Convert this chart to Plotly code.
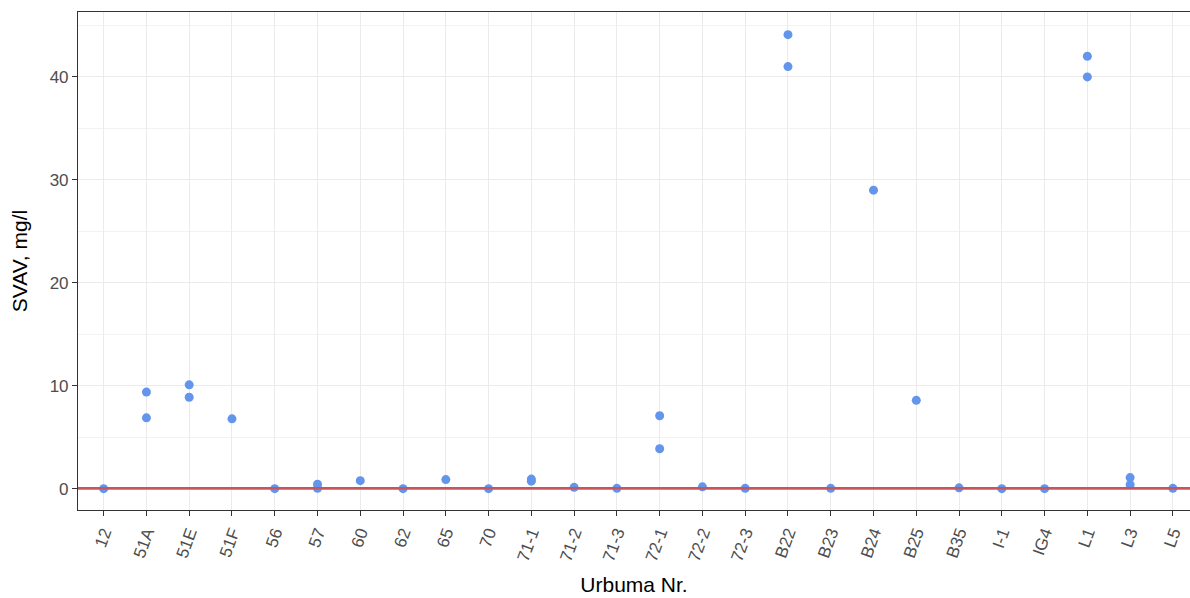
import plotly.graph_objects as go

categories = ["12", "51A", "51E", "51F", "56", "57", "60", "62", "65", "70",
              "71-1", "71-2", "71-3", "72-1", "72-2", "72-3", "B22", "B23",
              "B24", "B25", "B35", "I-1", "IG4", "L1", "L3", "L5"]

site = ["12", "51A", "51A", "51E", "51E", "51F", "56", "57", "57", "60", "62",
        "65", "70", "71-1", "71-1", "71-2", "71-3", "72-1", "72-1", "72-2",
        "72-3", "B22", "B22", "B23", "B24", "B25", "B35", "I-1", "IG4",
        "L1", "L1", "L3", "L3", "L5"]
svav = [0.02, 9.4, 6.9, 10.1, 8.9, 6.8, 0.02, 0.45, 0.05, 0.8, 0.02,
        0.9, 0.02, 0.95, 0.75, 0.15, 0.05, 7.1, 3.9, 0.2,
        0.05, 44.1, 41.0, 0.05, 29.0, 8.6, 0.1, 0.02, 0.02,
        42.0, 40.0, 1.1, 0.4, 0.05]

limit_red = 0.1
limit_grey = 0.0

fig = go.Figure()
fig.add_trace(go.Scatter(
    x=site, y=svav, mode="markers",
    marker=dict(color="#6495ED", size=9, line=dict(width=0)),
    showlegend=False, cliponaxis=False,
))

fig.add_shape(type="line", xref="paper", yref="y", x0=0, x1=1,
              y0=limit_grey, y1=limit_grey,
              line=dict(color="#70808F", width=1.8), layer="above")
fig.add_shape(type="line", xref="paper", yref="y", x0=0, x1=1,
              y0=limit_red, y1=limit_red,
              line=dict(color="#E8464B", width=1.8), layer="above")

font_family = "Liberation Sans, Arial, sans-serif"

fig.update_layout(
    width=1190, height=598,
    margin=dict(l=78, r=0, t=12, b=88),
    paper_bgcolor="white", plot_bgcolor="white",
    font=dict(family=font_family),
    xaxis=dict(
        type="category", categoryorder="array", categoryarray=categories,
        range=[-0.6, 25.4],
        showgrid=True, gridcolor="#EBEBEB", gridwidth=1.2,
        showline=True, linecolor="#333333", linewidth=1.1, mirror=True,
        ticks="outside", ticklen=5, tickcolor="#333333", tickwidth=1.1,
        tickangle=-70,
        tickfont=dict(size=17, color="#4D4D4D", family=font_family),
        title=dict(text="Urbuma Nr.", font=dict(size=21, color="black"), standoff=14),
        zeroline=False,
    ),
    yaxis=dict(
        range=[-2.05, 46.3],
        tickvals=[0, 10, 20, 30, 40],
        showgrid=True, gridcolor="#EBEBEB", gridwidth=1.2,
        minor=dict(tickvals=[5, 15, 25, 35, 45], showgrid=True,
                   gridcolor="#F2F2F2", gridwidth=0.7, ticks=""),
        showline=True, linecolor="#333333", linewidth=1.1, mirror=False,
        ticks="outside", ticklen=5, tickcolor="#333333", tickwidth=1.1,
        tickfont=dict(size=17, color="#4D4D4D", family=font_family),
        title=dict(text="SVAV, mg/l", font=dict(size=21, color="black"), standoff=16),
        zeroline=False,
    ),
)

fig.write_html("out.html")
